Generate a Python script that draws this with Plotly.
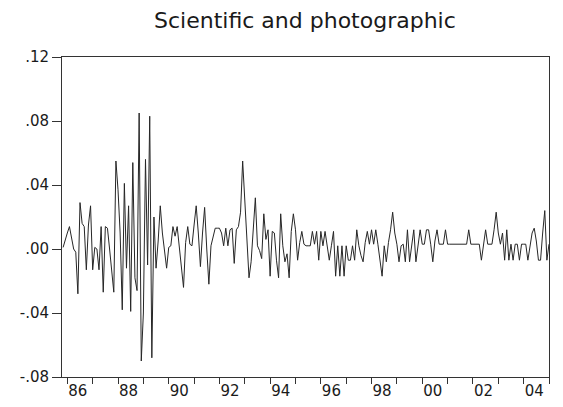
import plotly.graph_objects as go

# Monthly observations starting 1985M11 (decimal-year positions computed from index)
start_year = 1985 + 10 / 12
values = [
    0.001, 0.006, 0.010, 0.014, 0.006, 0.000, -0.002, -0.028, 0.029, 0.016,
    0.014, -0.013, 0.015, 0.027, -0.013, 0.001, 0.000, -0.013, 0.014, -0.027,
    0.014, 0.013, 0.000, -0.015, -0.027, 0.055, 0.037, 0.010, -0.038, 0.041,
    -0.012, 0.027, -0.039, 0.054, -0.018, -0.026, 0.085, -0.070, -0.040, 0.056,
    -0.010, 0.083, -0.068, 0.020, -0.012, 0.005, 0.027, 0.010, -0.002, -0.012,
    0.001, 0.002, 0.014, 0.008, 0.014, 0.000, -0.012, -0.024, 0.004, 0.014,
    0.003, 0.002, 0.015, 0.027, 0.010, -0.011, 0.010, 0.026, 0.000, -0.022,
    0.002, 0.008, 0.013, 0.013, 0.013, 0.010, 0.002, 0.013, 0.002, 0.012,
    0.013, -0.009, 0.012, 0.014, 0.023, 0.055, 0.030, 0.010, -0.018, -0.008,
    0.010, 0.032, 0.002, -0.001, -0.006, 0.022, 0.006, 0.012, -0.017, 0.011,
    0.010, -0.007, -0.018, 0.022, 0.002, -0.008, -0.003, -0.018, 0.011, 0.022,
    0.012, -0.007, 0.004, 0.011, 0.003, 0.002, 0.002, 0.002, 0.011, 0.003,
    0.011, -0.007, 0.011, 0.002, 0.011, 0.002, -0.007, 0.002, 0.011, -0.017,
    0.002, -0.017, 0.002, -0.017, 0.002, -0.007, -0.007, 0.002, -0.007, 0.012,
    0.002, -0.004, -0.008, 0.004, 0.011, 0.003, 0.012, 0.003, 0.012, 0.003,
    -0.007, -0.017, 0.002, -0.008, 0.004, 0.012, 0.023, 0.010, 0.003, -0.008,
    0.002, 0.003, -0.008, 0.012, -0.008, 0.002, 0.012, -0.008, 0.004, 0.012,
    0.003, 0.003, 0.012, 0.012, 0.003, -0.008, 0.005, 0.012, 0.003, 0.003,
    0.003, 0.012, 0.003, 0.003, 0.003, 0.003, 0.003, 0.003, 0.003, 0.003,
    0.003, 0.003, 0.012, 0.003, 0.003, 0.003, 0.003, 0.003, -0.007, 0.003,
    0.012, 0.003, 0.003, 0.003, 0.012, 0.023, 0.010, 0.003, 0.010, -0.007,
    0.012, -0.007, 0.003, -0.007, 0.003, 0.003, -0.007, 0.003, 0.003, 0.003,
    -0.007, 0.003, 0.010, 0.013, 0.005, -0.007, -0.007, 0.010, 0.024, -0.007,
    0.003,
]
x_vals = [start_year + i / 12 for i in range(len(values))]

label_years = list(range(1986, 2005, 2))
tick_labels = ["86", "88", "90", "92", "94", "96", "98", "00", "02", "04"]
minor_years = list(range(1987, 2006, 2))
y_ticks = [-0.08, -0.04, 0.0, 0.04, 0.08, 0.12]
y_tick_labels = ["-.08", "-.04", ".00", ".04", ".08", ".12"]

title_text = "Scientific and photographic"

fig = go.Figure()
fig.add_trace(go.Scatter(
    x=x_vals, y=values, mode="lines",
    line=dict(color="#262626", width=1),
    hoverinfo="skip", showlegend=False,
))

font_family = "DejaVu Sans, Liberation Sans, Arial, sans-serif"

# page body has an 8px margin; figure sized to fill the rest of the 563x407 window
fig.update_layout(
    width=555, height=399,
    margin=dict(l=54, r=14, t=49, b=30, autoexpand=False),
    paper_bgcolor="white", plot_bgcolor="white",
    title=dict(text=title_text, x=0.535, xanchor="center", y=0.97, yanchor="middle",
               font=dict(family=font_family, size=22, color="#1a1a1a")),
    font=dict(family=font_family, size=15, color="#1a1a1a"),
)
fig.update_xaxes(
    automargin=False,
    range=[1985.79, 2005.0],
    tickvals=label_years, ticktext=tick_labels,
    ticks="outside", ticklen=6, tickcolor="#333", tickwidth=1,
    ticklabelposition="outside right",
    minor=dict(tickvals=minor_years, ticks="outside", ticklen=6, tickcolor="#333", tickwidth=1),
    showgrid=False, zeroline=False,
    showline=True, linecolor="#333", linewidth=1, mirror=True,
    tickfont=dict(size=15),
)
fig.update_yaxes(
    automargin=False,
    range=[-0.08, 0.12],
    tickvals=y_ticks, ticktext=y_tick_labels,
    ticks="outside", ticklen=9, tickcolor="#333", tickwidth=1,
    showgrid=False, zeroline=False,
    showline=True, linecolor="#333", linewidth=1, mirror=True,
    tickfont=dict(size=15),
)

fig.write_html("out.html")
